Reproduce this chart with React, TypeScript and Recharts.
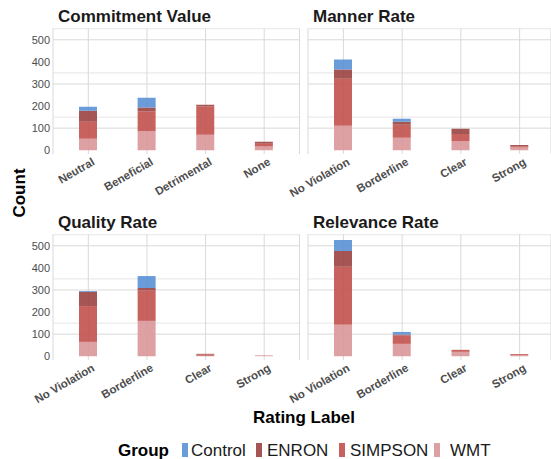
import { Bar, BarChart, CartesianGrid, XAxis, YAxis } from 'recharts';

// ---- data ----
const groups = ['WMT', 'SIMPSON', 'ENRON', 'Control'];
const yTicks = [0, 100, 200, 300, 400, 500];
const minorBreaks = [50, 150, 250, 350, 450, 550];

const commitmentCats = ['Neutral', 'Beneficial', 'Detrimental', 'None'];
const commitmentWMT = [52, 86, 70, 17];
const commitmentSIMPSON = [77, 90, 128, 12];
const commitmentENRON = [50, 18, 8, 9];
const commitmentControl = [18, 44, 0, 0];

const rateCats = ['No Violation', 'Borderline', 'Clear', 'Strong'];

const mannerWMT = [111, 56, 42, 12];
const mannerSIMPSON = [213, 59, 32, 6];
const mannerENRON = [41, 14, 23, 6];
const mannerControl = [46, 13, 0, 0];

const qualityWMT = [65, 160, 2, 1];
const qualitySIMPSON = [162, 137, 6, 2];
const qualityENRON = [64, 12, 3, 0];
const qualityControl = [4, 54, 0, 0];

const relevanceWMT = [142, 56, 20, 6];
const relevanceSIMPSON = [263, 39, 9, 4];
const relevanceENRON = [71, 3, 0, 0];
const relevanceControl = [50, 12, 0, 0];

const COLORS: Record<string, string> = {
  Control: '#5991d4',
  ENRON: '#9b4240',
  SIMPSON: '#c2514d',
  WMT: '#da9799',
};
const FONT = '"Liberation Sans", Arial, sans-serif';

function rows(cats: string[], wmt: number[], simpson: number[], enron: number[], control: number[]) {
  return cats.map((label, i) => ({
    label,
    WMT: wmt[i],
    SIMPSON: simpson[i],
    ENRON: enron[i],
    Control: control[i],
  }));
}

const AngledTick = ({ x, y, payload }: any) => (
  <text
    x={x + 3}
    y={y}
    transform={`rotate(-30, ${x + 3}, ${y})`}
    textAnchor="end"
    dy="0.72em"
    fontSize={11.5}
    fontWeight="bold"
    fill="#4d4d4d"
    fontFamily={FONT}
  >
    {payload.value}
  </text>
);

function Panel({ data, left, top, showY, pad }: any) {
  return (
    <div style={{ position: 'absolute', left, top }}>
      <BarChart
        width={300}
        height={200}
        data={data}
        margin={{ top: 28.3, right: showY ? 0.5 : 0, bottom: 0, left: showY ? 0 : 57 }}
      >
        <CartesianGrid vertical={false} horizontalValues={minorBreaks} stroke="#e6e6e6" />
        <CartesianGrid horizontalValues={yTicks} stroke="#d9d9d9" />
        <XAxis
          dataKey="label"
          axisLine={false}
          tickLine={false}
          tickSize={0}
          tickMargin={3}
          height={46}
          interval={0}
          padding={pad}
          tick={<AngledTick />}
        />
        <YAxis
          type="number"
          domain={[-17, 552]}
          allowDataOverflow
          ticks={yTicks}
          hide={!showY}
          width={53}
          axisLine={false}
          tickLine={false}
          tickSize={0}
          tickMargin={3}
          tick={{ fontSize: 11, fill: '#4d4d4d', fontFamily: FONT }}
        />
        {groups.map((g) => (
          <Bar
            key={g}
            dataKey={g}
            stackId="a"
            fill={COLORS[g]}
            fillOpacity={0.9}
            barSize={18}
            isAnimationActive={false}
          />
        ))}
      </BarChart>
    </div>
  );
}

const legendItems = [
  { name: 'Control', key: 182, text: 191 },
  { name: 'ENRON', key: 256, text: 267 },
  { name: 'SIMPSON', key: 339, text: 350 },
  { name: 'WMT', key: 434, text: 450 },
];

export default function App() {
  const padL = { left: 6, right: 6 };
  const padR = { left: 6, right: 2 };
  return (
    <div style={{ position: 'absolute', left: 0, top: 0, width: 551, height: 459, background: '#fff', fontFamily: FONT }}>
      <Panel data={rows(commitmentCats, commitmentWMT, commitmentSIMPSON, commitmentENRON, commitmentControl)} left={0} top={0} showY pad={padL} />
      <Panel data={rows(rateCats, mannerWMT, mannerSIMPSON, mannerENRON, mannerControl)} left={251} top={0} showY={false} pad={padR} />
      <Panel data={rows(rateCats, qualityWMT, qualitySIMPSON, qualityENRON, qualityControl)} left={0} top={206} showY pad={padL} />
      <Panel data={rows(rateCats, relevanceWMT, relevanceSIMPSON, relevanceENRON, relevanceControl)} left={251} top={206} showY={false} pad={padR} />
      <svg width={551} height={459} style={{ position: 'absolute', left: 0, top: 0, pointerEvents: 'none' }} fontFamily={FONT}>
        <g fontSize={17} fontWeight="bold" fill="#1a1a1a">
          <text x={58} y={22}>Commitment Value</text>
          <text x={313} y={22}>Manner Rate</text>
          <text x={58} y={228}>Quality Rate</text>
          <text x={313} y={228}>Relevance Rate</text>
        </g>
        <text x={25} y={193} transform="rotate(-90, 25, 193)" textAnchor="middle" fontSize={17} fontWeight="bold" fill="#000">
          Count
        </text>
        <text x={304} y={423} textAnchor="middle" fontSize={17} fontWeight="bold" fill="#000">
          Rating Label
        </text>
        <text x={118} y={455.5} fontSize={17} fontWeight="bold" fill="#000">Group</text>
        {legendItems.map((it) => (
          <g key={it.name}>
            <rect x={it.key} y={443} width={6} height={14} fill={COLORS[it.name]} fillOpacity={0.9} />
            <text x={it.text} y={455.5} fontSize={17} fill="#1a1a1a">{it.name}</text>
          </g>
        ))}
      </svg>
    </div>
  );
}
